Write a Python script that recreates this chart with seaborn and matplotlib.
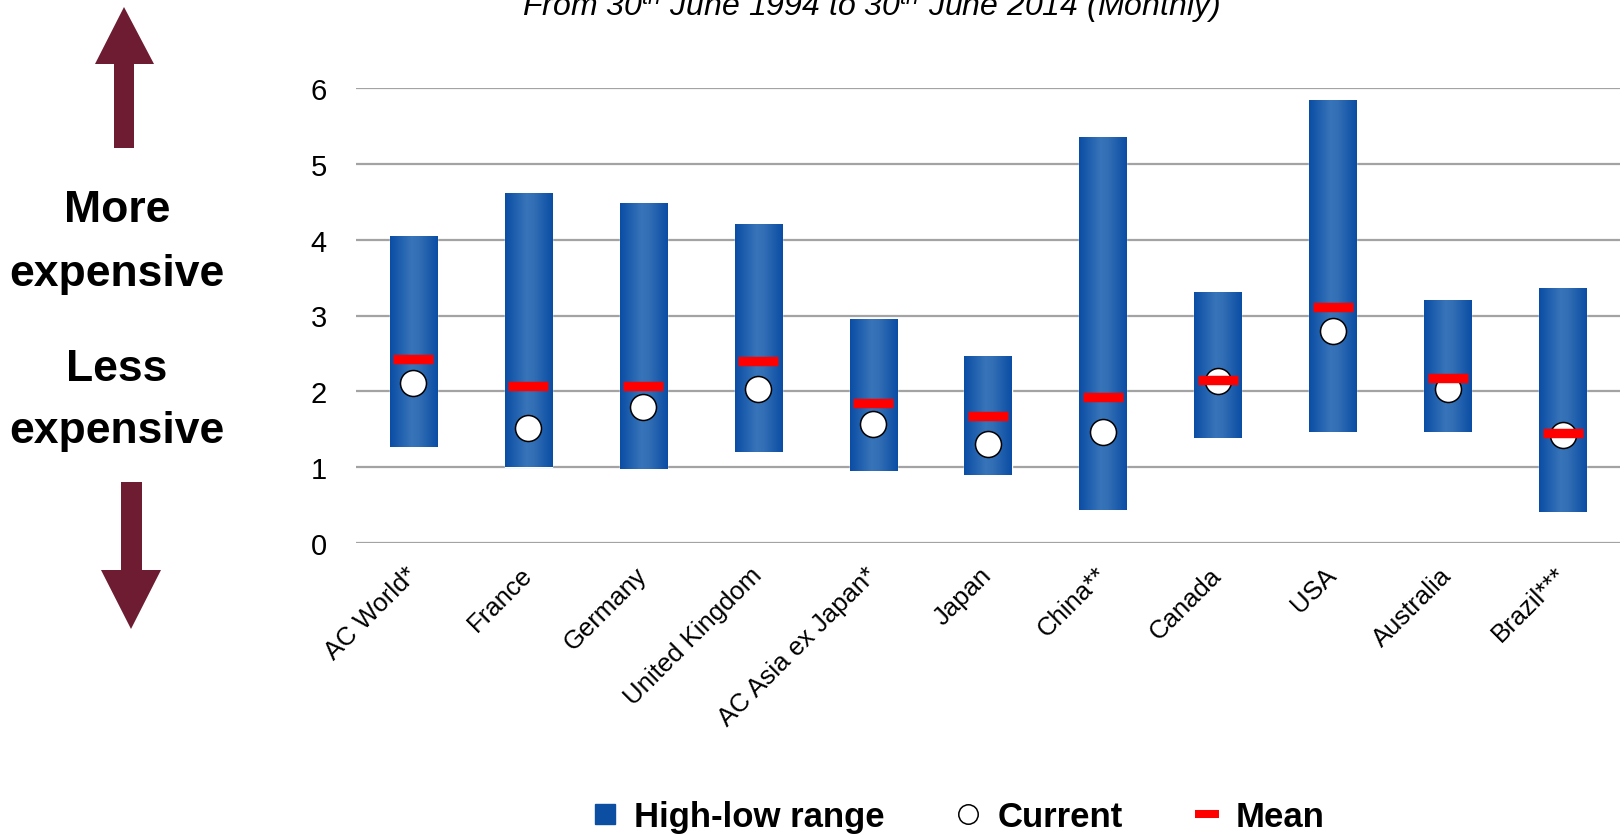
import numpy as np
import pandas as pd
import matplotlib
matplotlib.use("Agg")
import matplotlib.pyplot as plt
import seaborn as sns
from matplotlib import font_manager
from matplotlib.colors import LinearSegmentedColormap
from matplotlib.lines import Line2D
from matplotlib.patches import Polygon

# Price-to-book style valuation ranges per market
markets = ["AC World*", "France", "Germany", "United Kingdom", "AC Asia ex Japan*",
           "Japan", "China**", "Canada", "USA", "Australia", "Brazil***"]
high = [4.05, 4.62, 4.48, 4.21, 2.95, 2.47, 5.35, 3.31, 5.84, 3.20, 3.36]
low = [1.26, 1.00, 0.98, 1.20, 0.95, 0.90, 0.44, 1.39, 1.47, 1.47, 0.41]
mean = [2.42, 2.07, 2.07, 2.40, 1.84, 1.68, 1.92, 2.15, 3.11, 2.17, 1.45]
current = [2.11, 1.52, 1.80, 2.03, 1.57, 1.31, 1.47, 2.14, 2.80, 2.03, 1.42]
y_ticks = [0, 1, 2, 3, 4, 5, 6]

title = "From 30$^{th}$ June 1994 to 30$^{th}$ June 2014 (Monthly)"
legend_labels = ["High-low range", "Current", "Mean"]

sns.set_theme(style="white")

available = {f.name for f in font_manager.fontManager.ttflist}
narrow = "Liberation Sans Narrow" if "Liberation Sans Narrow" in available else "Liberation Sans"
plt.rcParams["font.family"] = [narrow, "DejaVu Sans"]
plt.rcParams["mathtext.fontset"] = "custom"
plt.rcParams["mathtext.it"] = f"{narrow}:italic"
plt.rcParams["mathtext.rm"] = narrow
for key in ["text.color", "axes.labelcolor", "xtick.color", "ytick.color"]:
    plt.rcParams[key] = "black"

df = pd.DataFrame({"market": markets, "low": low, "high": high,
                   "mean": mean, "current": current})
df["span"] = df["high"] - df["low"]

W, H = 1620, 837
fig = plt.figure(figsize=(W / 100, H / 100), dpi=100)
ax = fig.add_axes([356 / W, 1 - 544 / H, 1 - 356 / W, (544 - 89) / H])

bar_blue = "#0B4EA2"
sns.barplot(data=df, x="market", y="span", bottom=df["low"].to_numpy(),
            order=markets, color=bar_blue, width=0.41, saturation=1,
            errorbar=None, ax=ax, zorder=2)

# horizontal shading across each bar
shade = LinearSegmentedColormap.from_list(
    "bar_shade", [(0.0, "#0A4DA4"), (0.45, "#3874B9"), (0.6, "#336FB5"), (1.0, "#0A4DA4")])
grad = np.linspace(0, 1, 256).reshape(1, -1)
for patch in list(ax.patches):
    x0, y0 = patch.get_x(), patch.get_y()
    w, h = patch.get_width(), patch.get_height()
    im = ax.imshow(grad, extent=[x0, x0 + w, y0, y0 + h], aspect="auto",
                   cmap=shade, zorder=2.1, interpolation="bilinear")
    im.set_clip_path(patch)

sns.scatterplot(data=df, x="market", y="current", marker="o", s=350,
                color="white", edgecolor="black", linewidth=1.1, ax=ax, zorder=3)
sns.scatterplot(data=df, x="market", y="mean", marker="_", s=870,
                color="#FF0000", linewidth=6.8, ax=ax, zorder=4)

ax.set_xlim(-0.5, len(markets) - 0.5)
ax.set_ylim(0, 6)
ax.set_yticks(y_ticks)
ax.set_yticklabels([str(t) for t in y_ticks], fontsize=21)
ax.tick_params(axis="y", length=0, pad=21)
ax.tick_params(axis="x", length=0, pad=20)
ax.set_xticks(range(len(markets)))
ax.set_xticklabels(markets, rotation=45, ha="right", va="center",
                   rotation_mode="anchor", fontsize=18.5)
ax.set_xlabel("")
ax.set_ylabel("")
ax.yaxis.grid(True, color="#A3A3A3", linewidth=1.6)
ax.xaxis.grid(False)
ax.set_axisbelow(True)
for s in ax.spines.values():
    s.set_visible(False)

fig.text(871 / W, 1 - 16 / H, title, ha="center", va="baseline",
         fontsize=23, style="italic")

# side annotation with arrows, in pixel coordinates
ov = fig.add_axes([0, 0, 1, 1], zorder=-1)
ov.set_xlim(0, W)
ov.set_ylim(H, 0)
ov.axis("off")
maroon = "#6E1C31"
up = [(124, 8), (154, 65), (134, 65), (134, 149), (114, 149), (114, 65), (95, 65)]
down = [(131, 630), (161, 571), (142, 571), (142, 483), (121, 483), (121, 571), (101, 571)]
ov.add_patch(Polygon(up, closed=True, color=maroon, lw=0))
ov.add_patch(Polygon(down, closed=True, color=maroon, lw=0))
for txt, yc in [("More", 210), ("expensive", 274), ("Less", 369), ("expensive", 432)]:
    ov.text(117, yc, txt, ha="center", va="center", fontsize=32,
            fontweight="bold")

handles = [
    Line2D([], [], linestyle="none", marker="s", markersize=14.5,
           markerfacecolor=bar_blue, markeredgecolor=bar_blue),
    Line2D([], [], linestyle="none", marker="o", markersize=14,
           markerfacecolor="white", markeredgecolor="black", markeredgewidth=1.1),
    Line2D([], [], linestyle="none", marker="_", markersize=17,
           markeredgecolor="#FF0000", markeredgewidth=5.8),
]
fig.legend(handles, legend_labels, loc="center", bbox_to_anchor=(958 / W, 1 - 818 / H),
           ncol=3, frameon=False, handlelength=0.8, handletextpad=0.45,
           columnspacing=2.0, prop={"family": "Liberation Sans", "weight": "bold", "size": 25})

fig.savefig("out.png", dpi=100)
